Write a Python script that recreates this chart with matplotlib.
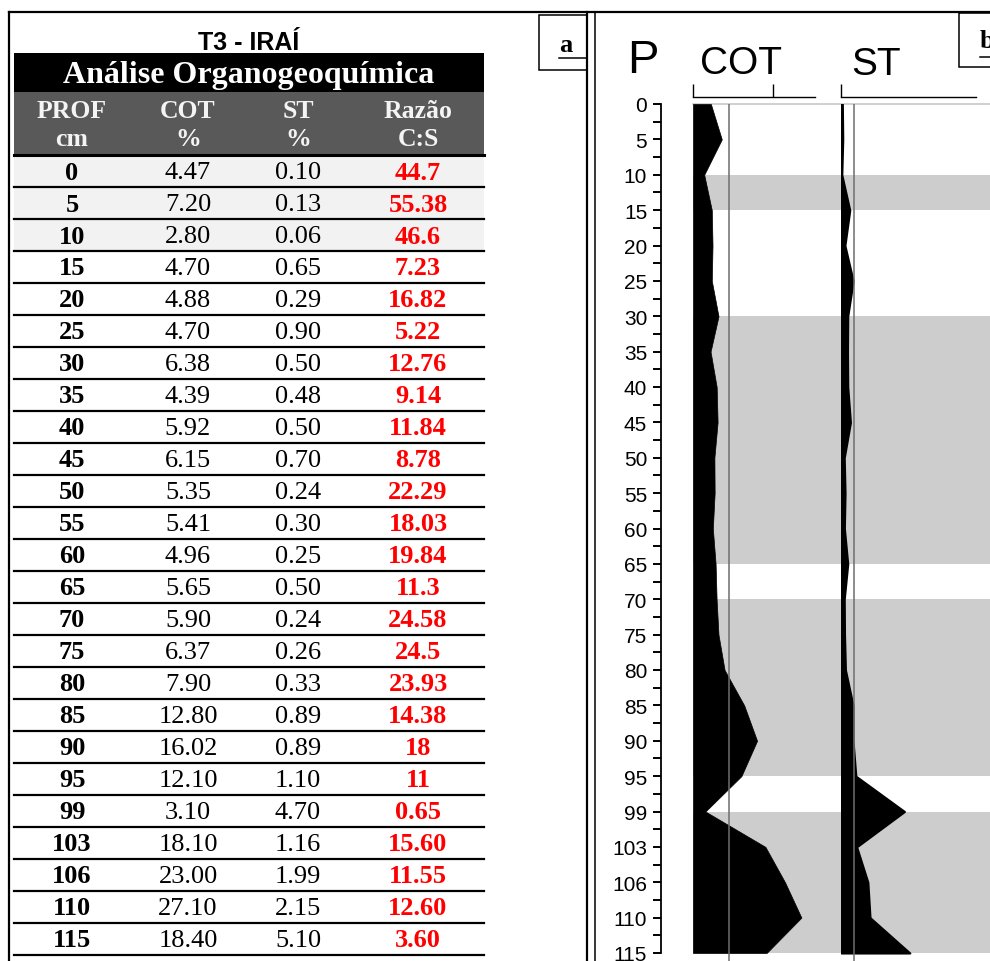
import matplotlib.pyplot as plt
import numpy as np
from matplotlib.patches import Rectangle

# Data
# ----------------------------------------------------------------------------

prof = [0, 5, 10, 15, 20, 25, 30, 35, 40, 45, 50, 55, 60, 65, 70, 75, 80,
        85, 90, 95, 99, 103, 106, 110, 115]
cot = [4.47, 7.20, 2.80, 4.70, 4.88, 4.70, 6.38, 4.39, 5.92, 6.15, 5.35, 5.41,
       4.96, 5.65, 5.90, 6.37, 7.90, 12.80, 16.02, 12.10, 3.10, 18.10, 23.00,
       27.10, 18.40]
st = [0.10, 0.13, 0.06, 0.65, 0.29, 0.90, 0.50, 0.48, 0.50, 0.70, 0.24, 0.30,
      0.25, 0.50, 0.24, 0.26, 0.33, 0.89, 0.89, 1.10, 4.70, 1.16, 1.99, 2.15,
      5.10]
razao = ['44.7', '55.38', '46.6', '7.23', '16.82', '5.22', '12.76', '9.14',
         '11.84', '8.78', '22.29', '18.03', '19.84', '11.3', '24.58', '24.5',
         '23.93', '14.38', '18', '11', '0.65', '15.60', '11.55', '12.60', '3.60']
header_top = ['PROF', 'COT', 'ST', 'Razão']
header_units = ['cm', '%', '%', 'C:S']

# depth intervals [cm] shaded in the profile
bands = [(10, 15), (30, 65), (70, 95), (99, 115)]

# Layout (pixels)
# ----------------------------------------------------------------------------

W, H = 990, 962
SERIF = 'Liberation Serif'
SANS = 'Liberation Sans'


def px_box(x0, y0, x1, y1):
    return [x0 / W, 1 - y1 / H, (x1 - x0) / W, (y1 - y0) / H]


fig = plt.figure(figsize=(W / 100, H / 100), dpi=100)

# overlay axes in pixel coords for the table and frames
bg = fig.add_axes([0, 0, 1, 1])
bg.set_xlim(0, W)
bg.set_ylim(H, 0)
bg.axis('off')

# frames
bg.plot([9, W], [13, 13], color='k', lw=1.6)
bg.plot([9, 9], [13, H], color='k', lw=1.6)
bg.plot([587, 587], [13, H], color='k', lw=1.6)
bg.plot([595, 595], [13, H], color='k', lw=1.1)

# box a and box b
bg.add_patch(Rectangle((539, 16), 48, 55, fill=False, lw=1.1, ec='k'))
bg.text(566, 46, 'a', family=SERIF, weight='bold', fontsize=19,
        ha='center', va='center')
bg.plot([559, 587], [59, 59], color='k', lw=1.1)
bg.add_patch(Rectangle((959, 14), 60, 54, fill=False, lw=1.1, ec='k',
                       clip_on=False))
bg.text(980, 41, 'b', family=SERIF, weight='bold', fontsize=19,
        ha='left', va='center')
bg.plot([980, W], [58, 58], color='k', lw=1.1)

# Table
# ----------------------------------------------------------------------------

tx0, tx1 = 14, 484
col_x = [72, 188, 298, 418]
row_top = 156
row_h = 32

bg.text((tx0 + tx1) / 2, 43, 'T3 - IRAÍ', family=SANS, weight='bold',
        fontsize=18, ha='center', va='center')
bg.add_patch(Rectangle((tx0, 54), tx1 - tx0, 39, color='black', lw=0))
bg.text((tx0 + tx1) / 2, 75, 'Análise Organogeoquímica', family=SERIF,
        weight='bold', fontsize=23, color='white', ha='center', va='center')
bg.add_patch(Rectangle((tx0, 93), tx1 - tx0, 62, color='#595959', lw=0))
for x, top, unit in zip(col_x, header_top, header_units):
    bg.text(x, 111, top, family=SERIF, weight='bold', fontsize=18.5,
            color='#f4f4f4', ha='center', va='center')
    bg.text(x, 140, unit, family=SERIF, weight='bold', fontsize=18.5,
            color='#f4f4f4', ha='center', va='center')
bg.plot([tx0, tx1], [row_top, row_top], color='k', lw=2.2)

for i, (p, c, s, r) in enumerate(zip(prof, cot, st, razao)):
    y0 = row_top + i * row_h
    if i < 3:
        bg.add_patch(Rectangle((tx0, y0 + 1), tx1 - tx0, row_h - 1,
                               color='#f2f2f2', lw=0, zorder=0))
    yc = y0 + row_h / 2 + 1
    bg.text(col_x[0], yc, str(p), family=SERIF, weight='bold', fontsize=19,
            ha='center', va='center')
    bg.text(col_x[1], yc, '%.2f' % c, family=SERIF, fontsize=19,
            ha='center', va='center')
    bg.text(col_x[2], yc, '%.2f' % s, family=SERIF, fontsize=19,
            ha='center', va='center')
    bg.text(col_x[3], yc, r, family=SERIF, weight='bold', fontsize=19,
            color='#ff0000', ha='center', va='center')
    bg.plot([tx0, tx1], [y0 + row_h, y0 + row_h], color='k', lw=1.6)

# Profile
# ----------------------------------------------------------------------------

depth = np.arange(len(prof))
step = (954 - 105) / (len(prof) - 1)     # pixels per sample
ymax = (H - 105) / step

ax = fig.add_axes(px_box(693, 105, W, H))
ax.set_xlim(0, (W - 693) / 4.0)          # 4 px per % COT
ax.set_ylim(ymax, 0)
ax.fill_betweenx(depth, 0, cot, color='black', lw=0.5, zorder=2)
ax.axvline(np.mean(cot), color='#6e6e6e', lw=1.1, zorder=3)
for a, b in bands:
    ax.axhspan(prof.index(a), prof.index(b), color='#cdcdcd', lw=0, zorder=0)
ax.axhline(0, color='#c8c8c8', lw=1.2, clip_on=False, zorder=1)

ax.spines['right'].set_visible(False)
ax.spines['bottom'].set_visible(False)
ax.spines['left'].set_position(('outward', 23))
ax.spines['left'].set_bounds(0, len(prof) - 1)
ax.spines['left'].set_linewidth(1.3)
ax.set_yticks(depth)
ax.set_yticklabels([str(p) for p in prof])
ax.set_yticks(depth[:-1] + 0.5, minor=True)
ax.tick_params(axis='y', which='both', length=6, width=1.4, labelsize=15,
               pad=4)
for lab in ax.get_yticklabels():
    lab.set_family(SANS)

ax.spines['top'].set_position(('outward', 5))
ax.spines['top'].set_bounds(0, 30.5)
ax.spines['top'].set_linewidth(1.0)
ax.xaxis.tick_top()
ax.set_xticks([0, 20])
ax.tick_params(axis='x', length=9.5, width=1.0, labeltop=False)

ax2 = fig.add_axes(px_box(841, 105, W, H))
ax2.set_xlim(0, (W - 841) / 13.5)        # 13.5 px per % ST
ax2.set_ylim(ymax, 0)
ax2.patch.set_visible(False)
ax2.fill_betweenx(depth, 0, st, color='black', lw=1.5, zorder=2)
ax2.axvline(np.mean(st), color='#6e6e6e', lw=1.1, zorder=3)
for side in ['left', 'right', 'bottom']:
    ax2.spines[side].set_visible(False)
ax2.set_yticks([])
ax2.spines['top'].set_position(('outward', 5))
ax2.spines['top'].set_bounds(0, 10)
ax2.spines['top'].set_linewidth(1.0)
ax2.xaxis.tick_top()
ax2.set_xticks([0])
ax2.tick_params(axis='x', length=9.5, width=1.0, labeltop=False)

# column titles
bg.text(643, 73, 'P', family=SANS, fontsize=34, ha='center', va='baseline')
bg.text(700, 74, 'COT', family=SANS, fontsize=28, ha='left', va='baseline')
bg.text(851, 75, 'ST', family=SANS, fontsize=28, ha='left', va='baseline')

fig.savefig('out.png', dpi=100)
